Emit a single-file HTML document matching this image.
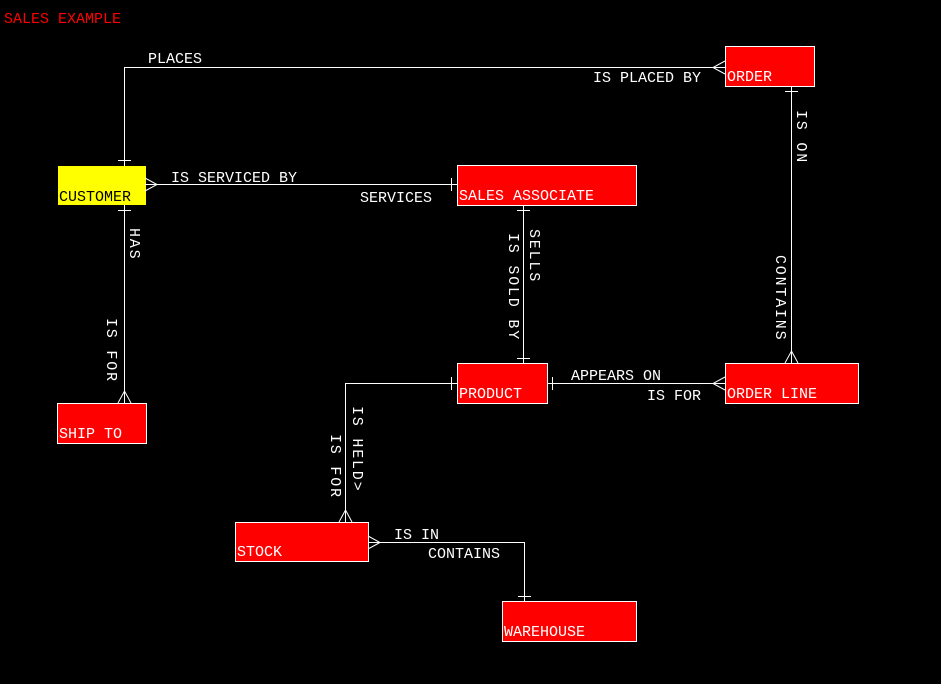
<!DOCTYPE html>
<html><head><meta charset="utf-8"><style>
html,body{margin:0;padding:0;background:#000;}
svg{display:block}
text{font-family:"Liberation Mono",monospace;font-size:15px;fill:#fff}
.v{letter-spacing:1.8px}
</style></head><body>
<svg width="941" height="684" viewBox="0 0 941 684" xmlns="http://www.w3.org/2000/svg">
<rect width="941" height="684" fill="#000"/>
<text x="4" y="23" style="fill:#f00">SALES EXAMPLE</text>
<g fill="#f00" stroke="#fff" stroke-width="1">
<rect x="457.5" y="165.5" width="179" height="40"/>
<rect x="725.5" y="46.5" width="89" height="40"/>
<rect x="457.5" y="363.5" width="90" height="40"/>
<rect x="725.5" y="363.5" width="133" height="40"/>
<rect x="57.5" y="403.5" width="89" height="40"/>
<rect x="235.5" y="522.5" width="133" height="39"/>
<rect x="502.5" y="601.5" width="134" height="40"/>
</g>
<rect x="58" y="166" width="88" height="39" fill="#ff0"/>
<g stroke="#fff" stroke-width="1" fill="none">
<polyline points="124.5,166 124.5,67.5 725,67.5"/>
<line x1="145" y1="184.5" x2="457" y2="184.5"/>
<line x1="124.5" y1="205" x2="124.5" y2="403"/>
<line x1="523.5" y1="205" x2="523.5" y2="363"/>
<line x1="547" y1="383.5" x2="725" y2="383.5"/>
<line x1="791.5" y1="86" x2="791.5" y2="363"/>
<polyline points="457,383.5 345.5,383.5 345.5,522"/>
<polyline points="368,542.5 524.5,542.5 524.5,601"/>
<line x1="118" y1="160.5" x2="131" y2="160.5"/>
<line x1="118" y1="210.5" x2="131" y2="210.5"/>
<line x1="451.5" y1="178" x2="451.5" y2="191"/>
<line x1="517" y1="210.5" x2="530" y2="210.5"/>
<line x1="517" y1="358.5" x2="530" y2="358.5"/>
<line x1="552.5" y1="377" x2="552.5" y2="390"/>
<line x1="451.5" y1="377" x2="451.5" y2="390"/>
<line x1="785" y1="91.5" x2="798" y2="91.5"/>
<line x1="518" y1="596.5" x2="531" y2="596.5"/>
<polyline points="145,178 157,184.5 145,191"/>
<polyline points="725,61 713,67.5 725,74"/>
<polyline points="725,377 713,383.5 725,390"/>
<polyline points="785,363 791.5,351 798,363"/>
<polyline points="118,403 124.5,391 131,403"/>
<polyline points="339,522 345.5,510 352,522"/>
<polyline points="368,536 380,542.5 368,549"/>
</g>
<text x="59" y="201" style="fill:#000">CUSTOMER</text>
<text x="459" y="200">SALES ASSOCIATE</text>
<text x="727" y="81">ORDER</text>
<text x="459" y="398">PRODUCT</text>
<text x="727" y="398">ORDER LINE</text>
<text x="59" y="438">SHIP TO</text>
<text x="237" y="556">STOCK</text>
<text x="504" y="636">WAREHOUSE</text>
<text x="148" y="63">PLACES</text>
<text x="593" y="82">IS PLACED BY</text>
<text x="171" y="182">IS SERVICED BY</text>
<text x="360" y="202">SERVICES</text>
<text x="571" y="380">APPEARS ON</text>
<text x="647" y="400">IS FOR</text>
<text x="394" y="539">IS IN</text>
<text x="428" y="558">CONTAINS</text>
<text class="v" transform="translate(130,228) rotate(90)">HAS</text>
<text class="v" transform="translate(107,318) rotate(90)">IS FOR</text>
<text class="v" transform="translate(509,233) rotate(90)">IS SOLD BY</text>
<text class="v" transform="translate(530,229) rotate(90)">SELLS</text>
<text class="v" transform="translate(797,110) rotate(90)">IS ON</text>
<text class="v" transform="translate(776,255) rotate(90)">CONTAINS</text>
<text class="v" transform="translate(353,406) rotate(90)">IS HELD&gt;</text>
<text class="v" transform="translate(331,434) rotate(90)">IS FOR</text>
</svg>
</body></html>
